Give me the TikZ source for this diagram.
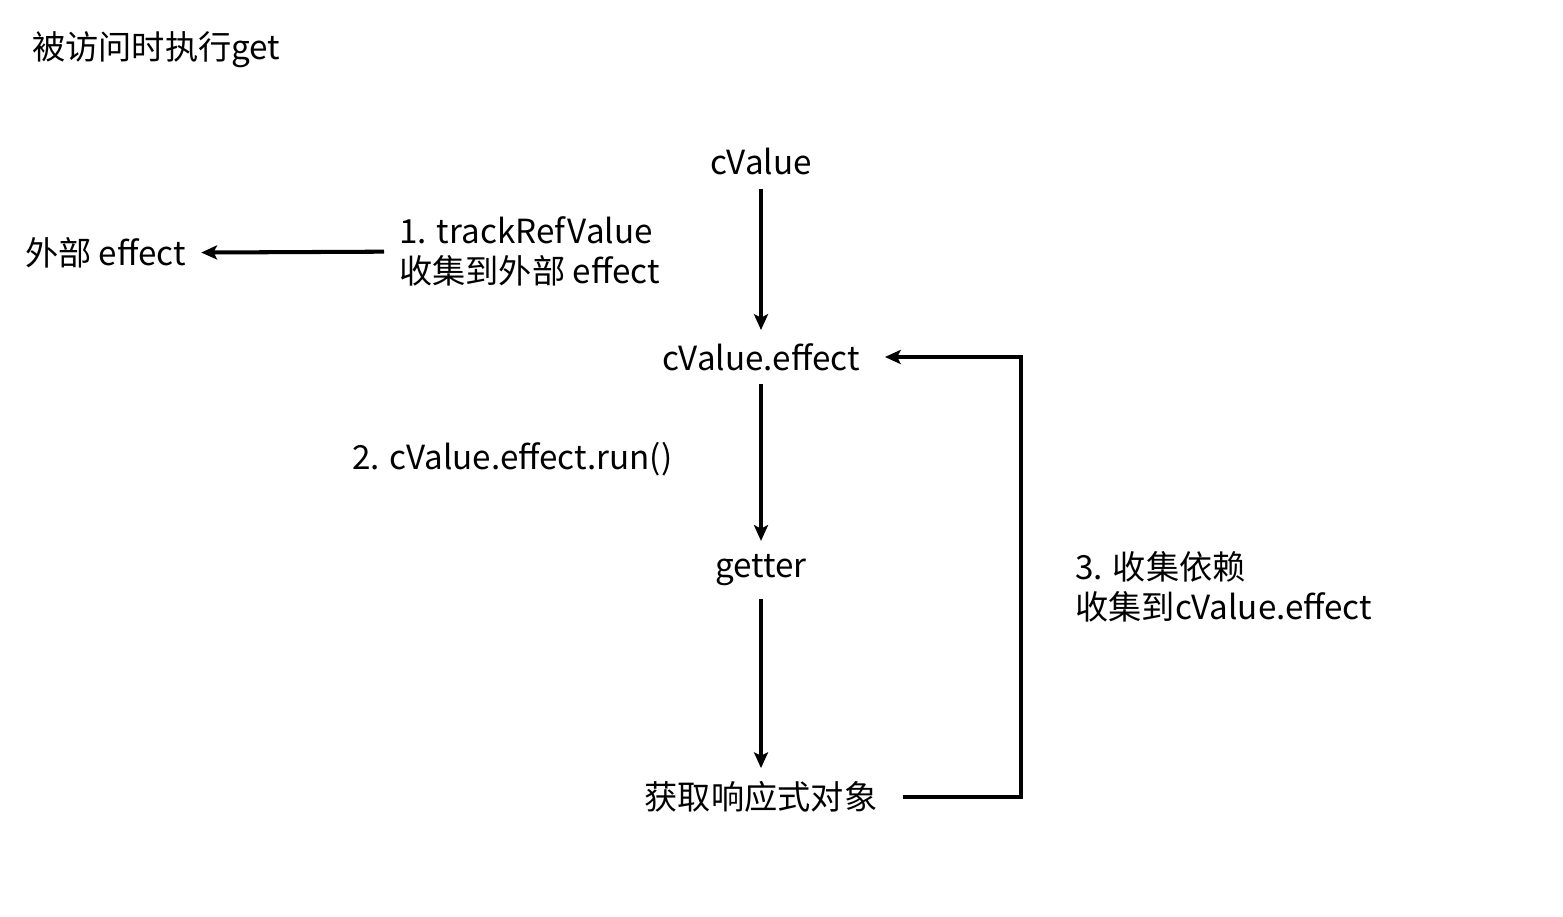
\documentclass[tikz,border=0pt]{standalone}
\usepackage{fontspec}
\setmainfont{Noto Sans CJK SC}
\usetikzlibrary{arrows.meta, positioning}
\tikzstyle{vbox} = [
  inner xsep=0.5cm,
  inner ysep=0.26cm,
  text centered,
  font=\fontsize{18.9}{22.7}\selectfont
]
\tikzstyle{note} = [
  inner sep=0.3cm,
  align=left,
  font=\fontsize{18.9}{22.7}\selectfont
]
\tikzstyle{link} = [line width=2.3pt, -{Stealth[length=9pt, width=8pt, inset=2pt]}]

\begin{document}
\begin{tikzpicture}[node distance=3.9cm]
    \useasboundingbox (0,0) rectangle (31.26,-18.34);
    \node (title) [note, anchor=west, inner sep=0pt] at (0.64,-1.0) {被访问时执行get};
    \node (cvalue) [vbox] at (15.22,-3.24) {cValue};
    \node (effect) [vbox, below of=cvalue] {cValue.effect};
    \node (getter) [vbox, below of=effect, yshift=-0.36cm] {getter};
    \node (reactive) [vbox, below of=getter, yshift=-0.64cm] {获取响应式对象};
    \node (outer) [note] at (2.11,-5.06) {外部 effect};
    \node (track) [note, anchor=west] at (7.68,-5.02) {1. trackRefValue\\收集到外部 effect};
    \node (run) [note, anchor=west] at (6.74,-9.18) {2. cValue.effect.run()};
    \node (collect) [note, anchor=west] at (21.2,-11.74) {3. 收集依赖\\收集到cValue.effect};

    \draw [link] (cvalue) -- (effect);
    \draw [link] (effect) -- (getter);
    \draw [link] (getter) -- (reactive);
    \draw [link] (track) -- (outer);
    \draw [link] (reactive.east) -- ++(2.36,0) |- (effect.east);
\end{tikzpicture}
\end{document}
